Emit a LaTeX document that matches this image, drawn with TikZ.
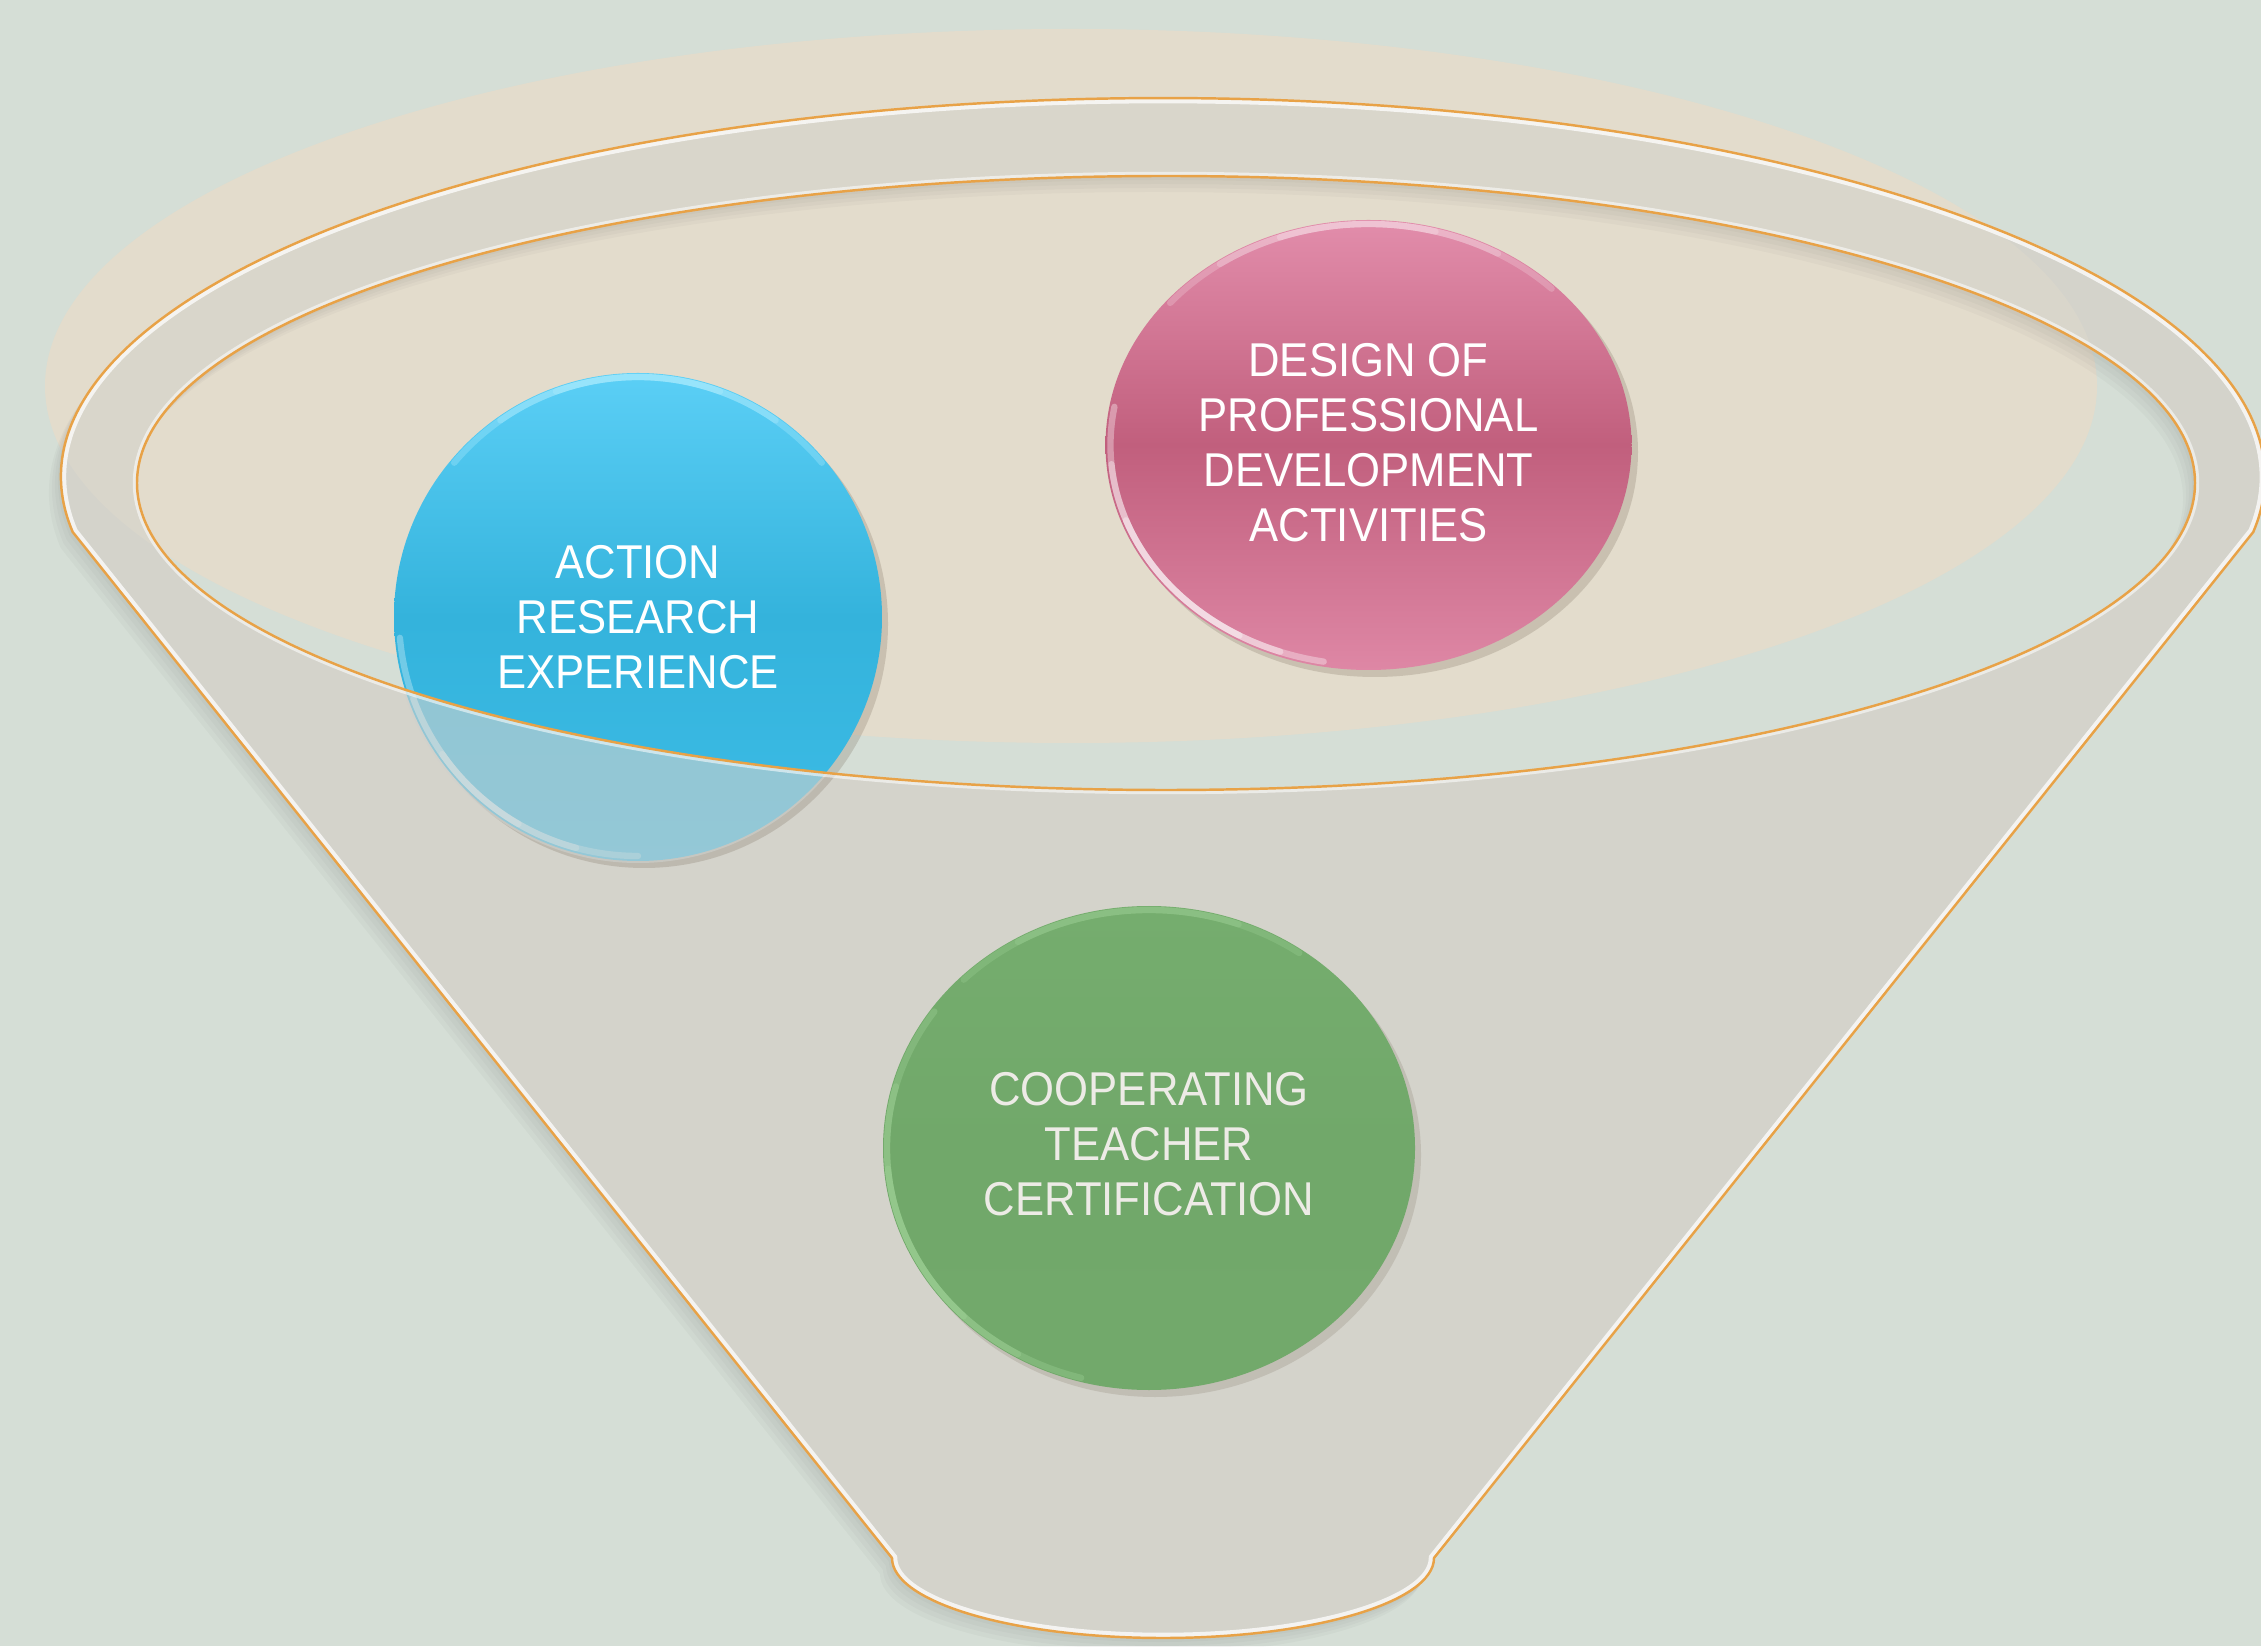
\documentclass[tikz,border=0pt]{standalone}
\usepackage{fontspec}
\newfontfamily\lblfont[FakeStretch=0.92]{Liberation Sans}
\definecolor{bgc}{HTML}{D5DED6}
\definecolor{beigec}{HTML}{E3DCCC}
\definecolor{funnelc}{HTML}{D4D3CB}
\definecolor{washc}{HTML}{CFD1CD}
\definecolor{rimorange}{HTML}{E8A247}
\definecolor{shadowc}{HTML}{6E6050}
\definecolor{blueTop}{HTML}{5BCFF6}
\definecolor{blueMid}{HTML}{34B3DC}
\definecolor{blueBot}{HTML}{3CBCE6}
\definecolor{blueRim}{HTML}{B8F0FF}
\definecolor{pinkTop}{HTML}{E28DAB}
\definecolor{pinkMid}{HTML}{C15F7D}
\definecolor{pinkBot}{HTML}{DE87A5}
\definecolor{greenTop}{HTML}{75AD6E}
\definecolor{greenMid}{HTML}{71A86A}
\definecolor{greenBot}{HTML}{72A96B}
\definecolor{greenRim}{HTML}{A6D89E}
\definecolor{greentext}{HTML}{EDEBE6}
\def\funnelpath{(72.7,1114) arc[start angle=188.34, end angle=-8.34, x radius=1102, y radius=379] -- (1434,88) arc[start angle=0, end angle=-180, x radius=271, y radius=80] -- cycle}
\def\holepath{(1166,1163) ellipse [x radius=1029, y radius=307]}
\def\beigepath{(1071,1260) ellipse [x radius=1026, y radius=357]}
\tikzset{
  lbl/.style={font=\lblfont\fontsize{13.5}{15.65}\selectfont, align=center, inner sep=0pt},
  rimline/.style={rimorange, line width=0.7pt},
  shadowfill/.style={fill=shadowc, opacity=0.22},
  gloss/.style={line width=1.8pt, line cap=round}
}
\begin{document}
\begin{tikzpicture}[x=0.1mm,y=0.1mm]
\useasboundingbox (0,0) rectangle (2261,1646);
\clip (0,0) rectangle (2261,1646);
% background
\fill[bgc] (0,0) rectangle (2261,1646);
% beige back ellipse
\fill[beigec] \beigepath;

% funnel soft shadow
\foreach \s in {1,2,3,4} {
  \fill[black, opacity=0.025, even odd rule, shift={(-3*\s,-4*\s)}] \funnelpath \holepath;
}
% funnel body
\fill[funnelc, even odd rule] \funnelpath \holepath;
% beige showing through the rim
\begin{scope}[even odd rule]
  \clip \funnelpath \holepath;
  \fill[beigec, opacity=0.35] \beigepath;
\end{scope}

% blue circle
\fill[shadowfill] (644,1022) circle [radius=244];
\shade[top color=blueTop, bottom color=blueBot, middle color=blueMid] (638,1029) circle [radius=244];
\foreach \a/\b in {40/140, 55/125, 70/110} {
  \draw[blueRim, opacity=0.3, gloss] (638,1029) ++(\a:240) arc [start angle=\a, end angle=\b, radius=240];
}
\foreach \a/\b in {185/270, 200/255, 215/240} {
  \draw[white, opacity=0.3, gloss] (638,1029) ++(\a:239) arc [start angle=\a, end angle=\b, radius=239];
}
% funnel front washing the lower part of the blue circle
\begin{scope}
  \clip (638,1029) circle [radius=246];
  \fill[washc, opacity=0.6, even odd rule] \funnelpath \holepath;
\end{scope}

% bevel highlight on the funnel
\begin{scope}[even odd rule]
  \clip \funnelpath \holepath;
  \draw[white, opacity=0.75, line width=3pt] \funnelpath;
  \draw[white, opacity=0.55, line width=2.4pt] \holepath;
\end{scope}
\draw[rimline] \funnelpath;
\draw[rimline] \holepath;

% pink circle
\fill[shadowfill] (1375,1194) ellipse [x radius=263, y radius=225];
\shade[top color=pinkTop, bottom color=pinkBot, middle color=pinkMid] (1368.5,1201) ellipse [x radius=263, y radius=225];
\foreach \a/\b in {45/140, 60/125, 75/110} {
  \draw[white, opacity=0.2, gloss] (1368.5,1201) ++({259*cos(\a)},{221*sin(\a)}) arc [start angle=\a, end angle=\b, x radius=259, y radius=221];
}
\foreach \a/\b in {170/260, 185/250, 200/240} {
  \draw[white, opacity=0.35, gloss] (1368.5,1201) ++({258*cos(\a)},{220*sin(\a)}) arc [start angle=\a, end angle=\b, x radius=258, y radius=220];
}

% green circle
\fill[shadowfill, opacity=0.18] (1155,491) ellipse [x radius=266, y radius=242];
\shade[top color=greenTop, bottom color=greenBot, middle color=greenMid] (1149,498) ellipse [x radius=266, y radius=242];
\foreach \a/\b in {145/255, 165/240, 185/225} {
  \draw[greenRim, opacity=0.3, gloss] (1149,498) ++({262*cos(\a)},{238*sin(\a)}) arc [start angle=\a, end angle=\b, x radius=262, y radius=238];
}
\foreach \a/\b in {55/135, 70/120} {
  \draw[greenRim, opacity=0.25, gloss] (1149,498) ++({262*cos(\a)},{238*sin(\a)}) arc [start angle=\a, end angle=\b, x radius=262, y radius=238];
}

% labels
\node[lbl, text=white] (action) at (638,1029) {ACTION\\RESEARCH\\EXPERIENCE};
\node[lbl, text=white] (design) at (1368.5,1203) {DESIGN OF\\PROFESSIONAL\\DEVELOPMENT\\ACTIVITIES};
\node[lbl, text=greentext] (coop) at (1149,502) {COOPERATING\\TEACHER\\CERTIFICATION};
\end{tikzpicture}
\end{document}
